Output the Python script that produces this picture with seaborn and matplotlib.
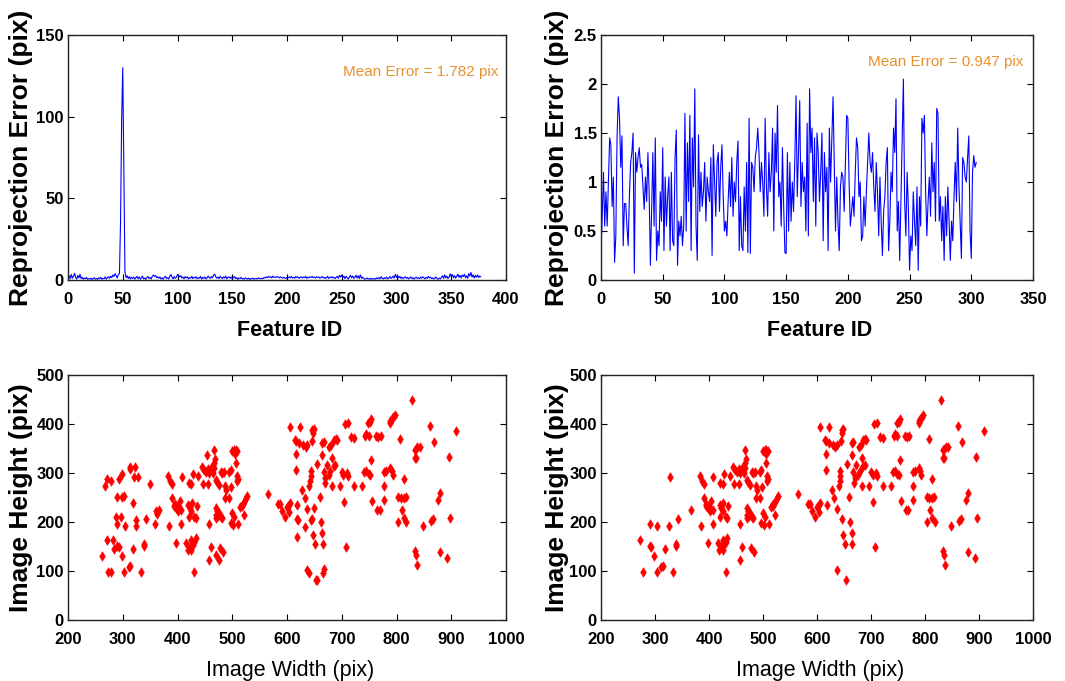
import matplotlib
matplotlib.use("Agg")
import numpy as np
import pandas as pd
import seaborn as sns
import matplotlib.pyplot as plt

# erro de reprojeção, todas as features (com outliers)
err_all = [
    1.2, 2.5, 0.8, 3.4, 1.1, 2.2, 4.1, 1.6, 0.6, 2.8, 1.3, 3.5, 0.9, 1.7, 0.5, 1.2, 0.8, 1.5, 0.4, 0.9,
    0.6, 1.1, 0.3, 0.8, 1.4, 0.5, 0.9, 0.4, 1.3, 0.7, 1.6, 0.5, 1.0, 0.8, 1.9, 0.6, 1.3, 2.0, 1.1, 2.4,
    1.5, 3.1, 2.2, 3.8, 2.6, 1.2, 3.3, 4.0, 36.0, 98.0, 130.0, 66.0, 5.0, 1.4, 2.6, 0.9, 2.1, 0.7, 1.6, 1.0,
    1.8, 0.6, 1.4, 2.2, 0.8, 1.9, 0.5, 1.3, 2.4, 0.7, 1.2, 0.4, 1.5, 2.1, 0.9, 1.6, 0.6, 2.3, 3.0, 2.2,
    2.7, 1.4, 2.0, 1.1, 1.8, 0.6, 1.3, 0.5, 1.7, 2.2, 0.9, 1.4, 0.6, 2.5, 3.3, 1.8, 0.7, 2.1, 1.0, 1.6,
    3.4, 2.8, 1.9, 2.6, 1.2, 1.8, 0.8, 2.1, 1.3, 1.9, 0.7, 1.5, 1.1, 2.3, 0.9, 1.7, 1.2, 2.0, 0.8, 1.4,
    1.1, 2.2, 0.6, 1.6, 1.0, 1.9, 0.7, 1.3, 2.4, 1.5, 1.0, 2.1, 1.4, 3.0, 3.6, 2.0, 1.1, 1.8, 0.9, 2.3,
    1.5, 0.8, 1.9, 1.2, 2.4, 0.7, 1.6, 2.0, 1.1, 1.8, 0.6, 1.4, 2.2, 0.9, 1.5, 0.4, 1.2, 0.8, 1.6, 0.7,
    1.0, 0.5, 1.3, 0.8, 0.6, 1.1, 0.4, 0.9, 0.7, 1.2, 0.5, 0.8, 1.0, 0.6, 1.3, 0.9, 0.7, 1.1, 0.8, 1.5,
    1.2, 1.9, 1.4, 2.2, 1.7, 2.0, 1.3, 2.4, 1.6, 1.9, 1.5, 2.1, 1.8, 1.3, 2.0, 1.5, 1.1, 1.7, 1.3, 0.9,
    1.6, 1.2, 1.9, 1.4, 2.1, 1.3, 1.7, 1.0, 2.2, 1.5, 1.9, 1.1, 1.6, 2.0, 1.2, 1.8, 1.4, 2.3, 1.0, 1.7,
    1.3, 1.9, 1.6, 2.2, 1.4, 1.8, 1.2, 2.0, 1.5, 1.9, 1.1, 1.6, 2.1, 1.3, 1.7, 0.9, 1.5, 2.2, 1.0, 1.8,
    1.4, 2.0, 1.2, 1.7, 0.9, 1.6, 2.3, 1.1, 2.8, 1.8, 3.0, 1.5, 2.4, 0.8, 2.2, 1.4, 0.6, 1.9, 2.9, 1.3,
    2.5, 1.0, 1.7, 2.9, 1.2, 2.6, 0.9, 3.1, 1.1, 1.8, 1.0, 0.5, 0.8, 1.2, 0.6, 0.9, 0.4, 1.1, 0.7, 0.5,
    1.0, 0.6, 1.3, 0.8, 1.5, 0.7, 2.0, 1.1, 0.6, 1.4, 0.9, 1.8, 0.7, 1.2, 2.1, 1.0, 1.5, 2.4, 1.2, 3.5,
    1.6, 2.6, 1.3, 2.2, 1.0, 1.7, 0.8, 1.4, 2.0, 1.1, 1.6, 0.7, 1.3, 1.9, 0.9, 1.5, 0.6, 1.2, 1.8, 1.0,
    1.4, 0.8, 1.7, 1.1, 2.0, 1.3, 0.7, 1.6, 1.0, 2.2, 1.2, 1.8, 0.9, 1.4, 0.6, 1.1, 1.9, 0.8, 0.5, 1.2,
    0.7, 1.5, 2.6, 1.0, 3.1, 1.3, 2.4, 0.9, 1.7, 3.8, 2.0, 3.3, 1.4, 2.7, 1.1, 2.3, 3.6, 1.6, 2.9, 1.2,
    3.0, 2.1, 3.5, 1.4, 2.6, 1.0, 3.9, 2.4, 4.6, 1.8, 3.2, 1.3, 2.8, 1.7, 3.1, 1.5, 2.4, 1.9,
]

# erro de reprojeção, só inliers
err_in = [
    0.28, 0.65, 1.1, 0.55, 0.9, 0.55, 1.0, 1.45, 1.38, 0.75, 1.05, 0.18, 0.45, 1.45, 1.87, 1.65, 1.15, 1.47, 0.35, 0.78,
    0.78, 0.55, 0.35, 0.85, 1.2, 1.3, 1.5, 0.07, 1.3, 1.1, 1.25, 1.35, 1.15, 1.18, 0.95, 0.72, 1.05, 0.8, 1.3, 0.9,
    0.15, 0.7, 1.3, 0.55, 1.45, 0.2, 0.5, 0.35, 0.9, 0.6, 1.35, 0.3, 1.05, 0.55, 0.85, 1.05, 0.3, 1.1, 0.4, 0.35,
    1.25, 1.53, 0.15, 0.6, 0.45, 0.65, 0.35, 0.55, 1.7, 0.5, 1.4, 0.8, 1.68, 0.3, 1.45, 0.95, 1.95, 0.55, 0.2, 1.48,
    0.7, 1.1, 0.75, 0.9, 1.2, 0.6, 1.05, 0.9, 0.8, 1.25, 0.25, 1.38, 1.0, 0.65, 1.2, 1.3, 0.7, 1.15, 1.38, 0.85,
    0.5, 0.6, 0.45, 0.8, 1.1, 0.75, 1.25, 0.65, 1.0, 0.8, 1.2, 1.42, 0.3, 0.85, 0.35, 0.3, 0.95, 0.5, 1.2, 0.28,
    1.65, 0.27, 1.2, 1.15, 0.9, 1.25, 1.35, 1.55, 1.3, 0.9, 1.2, 1.0, 0.65, 1.65, 0.95, 0.65, 1.3, 0.9, 1.1, 1.55,
    0.5, 1.5, 1.1, 1.78, 0.85, 1.0, 0.55, 1.35, 0.75, 0.28, 0.27, 1.3, 0.5, 1.2, 0.6, 1.0, 0.7, 1.2, 1.88, 0.85,
    1.3, 1.83, 0.75, 1.2, 0.9, 1.05, 0.5, 1.6, 0.45, 1.95, 1.3, 1.55, 0.8, 1.45, 0.55, 1.5, 1.3, 0.8, 1.1, 1.5,
    0.4, 1.3, 0.9, 1.15, 0.3, 1.55, 1.0, 1.45, 1.87, 1.2, 0.5, 1.05, 0.6, 0.3, 0.95, 1.1, 1.05, 0.7, 1.2, 1.68,
    1.65, 1.0, 0.55, 0.7, 0.85, 0.65, 1.1, 1.45, 1.35, 0.85, 1.0, 0.4, 0.45, 0.85, 0.55, 0.9, 1.2, 1.5, 1.2, 1.1,
    1.3, 0.95, 0.7, 1.2, 0.9, 0.45, 1.05, 0.6, 0.25, 0.7, 0.85, 1.2, 1.35, 0.3, 0.6, 1.1, 0.9, 1.55, 1.3, 1.85,
    0.5, 0.8, 0.2, 0.8, 1.45, 2.05, 0.8, 0.45, 1.1, 0.75, 0.1, 0.45, 0.3, 0.9, 0.6, 0.35, 0.95, 0.1, 0.85, 0.55,
    1.65, 1.5, 1.68, 0.9, 0.45, 0.8, 1.05, 0.65, 1.4, 0.9, 1.2, 0.6, 1.75, 1.7, 0.6, 0.85, 0.4, 0.75, 0.2, 0.85,
    0.45, 0.95, 0.6, 0.2, 0.6, 0.4, 0.85, 1.2, 0.8, 1.55, 0.95, 0.6, 0.22, 1.25, 1.2, 1.05, 1.0, 1.25, 1.47, 0.5,
    0.22, 1.1, 1.27, 1.15, 1.2,
]

# posição das features inliers na imagem
in_x = [272, 278, 290, 290, 293, 298, 303, 304, 312, 314, 318, 325, 327, 333, 339, 339, 342, 367,
        383, 387, 390, 408, 390, 395, 398, 401, 394, 400, 407, 404, 385, 398, 407,
        421, 425, 428, 420, 422, 425, 426, 431, 434, 421, 436,
        416, 422, 425, 428, 431, 434, 419, 425, 431, 438, 446,
        445, 449, 452, 455, 458, 461, 464, 467, 466, 456, 457, 457, 461, 466, 468,
        470, 473, 476, 479, 482,
        470, 473, 471, 474, 476, 479, 482, 470, 478, 483,
        487, 489, 487, 494, 485, 494, 497, 498, 500, 503, 497, 502,
        500, 503, 506, 509, 505, 506, 508, 510, 508,
        515, 518, 519, 522, 525, 527, 522, 511, 565,
        584, 587, 591, 597, 600, 603, 606, 604, 605, 615, 617, 616, 616, 618, 623, 622, 630, 634, 637,
        632, 628, 637, 637, 641, 642, 643, 645, 647, 649, 646, 643, 646, 648, 652, 653, 655, 660,
        664, 667, 662, 664, 665, 664, 667, 670, 669, 673, 676, 679, 677, 681, 685, 689, 691, 683,
        683, 688, 685, 697, 700, 703, 709, 712, 707, 706, 712, 716, 722, 723, 737, 742, 745, 749,
        740, 745, 749, 752, 748, 754, 752, 753, 756, 763, 766, 771, 765, 769, 777, 778, 778, 781,
        789, 791, 793, 788, 791, 794, 797, 789, 807, 803, 803, 810, 813, 818, 808, 813, 817, 813,
        829, 833, 835, 838, 843, 833, 836, 833, 836, 837, 848, 861, 863, 867, 869, 876, 880, 880,
        893, 895, 897, 909, 704]
in_y = [163, 97, 196, 152, 150, 130, 97, 191, 109, 111, 145, 191, 291, 97, 151, 155, 206, 224,
        293, 283, 278, 291, 249, 237, 228, 222, 232, 233, 224, 243, 191, 157, 196,
        279, 278, 298, 235, 228, 222, 239, 211, 208, 211, 232,
        157, 150, 143, 153, 160, 167, 143, 163, 97, 293, 277,
        312, 307, 303, 308, 300, 310, 301, 310, 346, 277, 196, 123, 148, 320, 328,
        286, 282, 276, 302, 299,
        228, 222, 215, 212, 219, 211, 209, 209, 147, 138,
        274, 266, 249, 249, 303, 303, 306, 271, 218, 211, 197, 194,
        345, 347, 347, 345, 338, 321, 293, 288, 283,
        230, 232, 236, 241, 248, 253, 215, 196, 257,
        237, 237, 222, 211, 231, 235, 238, 220, 394, 368, 365, 339, 307, 235, 394, 361, 358, 354, 358,
        249, 266, 226, 102, 273, 283, 293, 366, 381, 390, 388, 305, 206, 174, 155, 82, 319, 252,
        361, 364, 199, 177, 155, 337, 302, 289, 279, 316, 295, 305, 354, 358, 368, 369, 368, 331,
        273, 317, 314, 273, 303, 296, 300, 293, 149, 401, 403, 374, 273, 371, 274, 375, 380, 376,
        302, 305, 298, 295, 402, 410, 405, 327, 242, 375, 374, 376, 224, 224, 274, 245, 302, 305,
        310, 305, 295, 406, 410, 415, 418, 402, 369, 252, 199, 225, 209, 199, 248, 250, 252, 288,
        448, 347, 350, 353, 353, 331, 331, 140, 133, 113, 191, 395, 203, 206, 363, 245, 260, 139,
        126, 333, 209, 385, 240]

# features que só aparecem antes da remoção de outliers
out_x = [262, 268, 271, 278, 283, 284, 294, 299, 289, 298, 302, 319, 313, 314, 323, 320, 287, 296,
         325, 273, 350, 360, 363, 358, 453, 471, 476, 618, 620, 618, 633, 640, 643, 649, 654, 667, 666]
out_y = [130, 273, 288, 283, 164, 145, 287, 297, 252, 252, 253, 239, 312, 308, 312, 291, 210, 210,
         205, 97, 278, 222, 217, 196, 337, 133, 123, 207, 204, 169, 190, 95, 204, 228, 82, 105, 95]

mean_all = "Mean Error = 1.782 pix"
mean_in = "Mean Error = 0.947 pix"

ticks_id_all = [0, 50, 100, 150, 200, 250, 300, 350, 400]
ticks_id_in = [0, 50, 100, 150, 200, 250, 300, 350]
ticks_err_all = [0, 50, 100, 150]
ticks_err_in = [0, 0.5, 1, 1.5, 2, 2.5]
ticklbl_err_in = ["0", "0.5", "1", "1.5", "2", "2.5"]
ticks_w = [200, 300, 400, 500, 600, 700, 800, 900, 1000]
ticks_h = [0, 100, 200, 300, 400, 500]

sns.set_style("ticks")
fam = ["Liberation Sans", "DejaVu Sans"]
plt.rcParams["font.family"] = fam
for k in ["text.color", "axes.labelcolor", "xtick.color", "ytick.color", "axes.edgecolor"]:
    plt.rcParams[k] = "black"

df_all = pd.DataFrame({"id": np.arange(len(err_all)), "err": err_all})
df_in = pd.DataFrame({"id": np.arange(len(err_in)), "err": err_in})
df_pts_in = pd.DataFrame({"w": in_x, "h": in_y})
df_pts_all = pd.concat([df_pts_in, pd.DataFrame({"w": out_x, "h": out_y})], ignore_index=True)

fig = plt.figure(figsize=(10.65, 6.81), dpi=100)
W, H = 1065, 681
def box(l, t, r, b):
    return [l / W, 1 - b / H, (r - l) / W, (b - t) / H]

ax1 = fig.add_axes(box(68, 35, 506, 280))
ax2 = fig.add_axes(box(601, 35, 1033, 280))
ax3 = fig.add_axes(box(68, 375, 506, 620))
ax4 = fig.add_axes(box(601, 375, 1033, 620))

sns.lineplot(data=df_all, x="id", y="err", ax=ax1, color="#0000FF", lw=0.8, estimator=None)
sns.lineplot(data=df_in, x="id", y="err", ax=ax2, color="#0000FF", lw=0.8, estimator=None)
sns.scatterplot(data=df_pts_all, x="w", y="h", ax=ax3, marker="d", s=24, color="#FF0000",
                edgecolor="#FF0000", linewidth=0.4)
sns.scatterplot(data=df_pts_in, x="w", y="h", ax=ax4, marker="d", s=24, color="#FF0000",
                edgecolor="#FF0000", linewidth=0.4)

def style(ax, xt, xl, yt, yl, xlab, ylab, xbold, ylx):
    ax.set_xlim(xt[0], xt[-1])
    ax.set_ylim(yt[0], yt[-1])
    ax.set_xticks(xt)
    ax.set_xticklabels(xl, fontweight="bold", fontsize=12)
    ax.set_yticks(yt)
    ax.set_yticklabels(yl, fontweight="bold", fontsize=12)
    ax.tick_params(axis="x", direction="in", top=True, length=4, width=0.8, pad=9)
    ax.tick_params(axis="y", direction="in", right=True, length=4, width=0.8, pad=3)
    for s in ax.spines.values():
        s.set_visible(True)
        s.set_linewidth(1.0)
        s.set_color("#222222")
    ax.set_xlabel(xlab, fontsize=15.5, fontweight="bold" if xbold else "normal")
    ax.xaxis.set_label_coords(0.507, -0.208)
    ax.xaxis.label.set_va("center")
    ax.set_ylabel(ylab, fontsize=19, fontweight="bold")
    ax.yaxis.set_label_coords(ylx, 0.5)
    ax.yaxis.label.set_va("center")

style(ax1, ticks_id_all, [str(t) for t in ticks_id_all], ticks_err_all, [str(t) for t in ticks_err_all],
      "Feature ID", "Reprojection Error (pix)", True, -0.107)
style(ax2, ticks_id_in, [str(t) for t in ticks_id_in], ticks_err_in, ticklbl_err_in,
      "Feature ID", "Reprojection Error (pix)", True, -0.102)
style(ax3, ticks_w, [str(t) for t in ticks_w], ticks_h, [str(t) for t in ticks_h],
      "Image Width (pix)", "Image Height (pix)", False, -0.107)
style(ax4, ticks_w, [str(t) for t in ticks_w], ticks_h, [str(t) for t in ticks_h],
      "Image Width (pix)", "Image Height (pix)", False, -0.102)

ax1.text(251, 127.5, mean_all, color="#E8902F", fontsize=11, va="center", ha="left")
ax2.text(216, 2.22, mean_in, color="#E8902F", fontsize=11, va="center", ha="left")

fig.savefig("out.png", dpi=100)
